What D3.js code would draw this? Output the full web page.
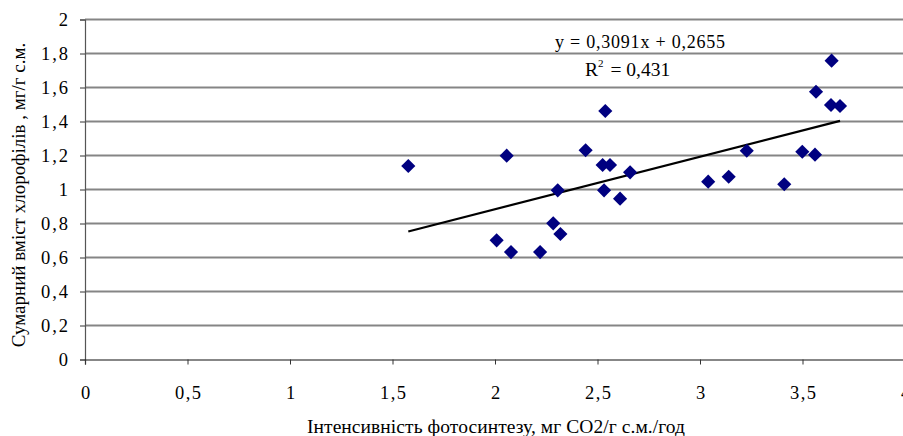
<!DOCTYPE html>
<html lang="uk">
<head>
<meta charset="UTF-8">
<title>Chart</title>
<style>
  body { margin: 0; background: #fff; }
  svg text { font-family: "Liberation Serif", "Times New Roman", Times, serif; fill: #000; }
</style>
</head>
<body>
<script src="https://cdn.jsdelivr.net/npm/d3@7"></script>
<script>
// photosynthesis intensity (x) vs total chlorophyll (y)
const xVals = [1.577, 2.057, 2.538, 2.442, 2.525, 2.561, 2.659, 2.306, 2.532, 2.610,
               2.284, 2.319, 2.008, 2.078, 2.220, 3.642, 3.566, 3.639, 3.683, 3.228,
               3.499, 3.561, 3.040, 3.140, 3.411]
const yVals = [1.138, 1.199, 1.462, 1.231, 1.144, 1.144, 1.101, 0.995, 0.995, 0.946,
               0.801, 0.738, 0.701, 0.632, 0.632, 1.758, 1.575, 1.497, 1.491, 1.228,
               1.222, 1.205, 1.046, 1.075, 1.031]
const slope = 0.3091
const intercept = 0.2655
const xTicks = [0, 0.5, 1, 1.5, 2, 2.5, 3, 3.5, 4]
const yTicks = [0, 0.2, 0.4, 0.6, 0.8, 1, 1.2, 1.4, 1.6, 1.8, 2]
const eqLabel = "y = 0,3091x + 0,2655"
const r2Value = "0,431"
const xTitle = "Інтенсивність фотосинтезу, мг СО2/г с.м./год"
const yTitle = "Сумарний вміст хлорофілів , мг/г с.м."

const width = 903, height = 436
const serif = "'Liberation Serif', 'Times New Roman', serif"
const fmt = d => String(d).replace(".", ",")

const svg = d3.select("body").append("svg")
    .attr("width", width)
    .attr("height", height)
    .attr("font-family", serif)

const x = d3.scaleLinear().domain([0, 4]).range([85, 905])
const y = d3.scaleLinear().domain([0, 2]).range([359.5, 19.5])

// horizontal gridlines
svg.append("g")
    .selectAll("line")
    .data(yTicks.filter(d => d > 0))
    .join("line")
    .attr("x1", x(0)).attr("x2", width)
    .attr("y1", d => y(d)).attr("y2", d => y(d))
    .attr("stroke", "#858585")
    .attr("stroke-width", 2)

// y axis
const yAxis = svg.append("g")
    .attr("transform", `translate(${x(0)},0)`)
    .call(d3.axisLeft(y).tickValues(yTicks).tickFormat(fmt).tickSize(5).tickPadding(12))
    .attr("font-family", serif)
yAxis.select(".domain").attr("stroke", "#555").attr("stroke-width", 1.2)
yAxis.selectAll(".tick line").attr("stroke", "#333")
yAxis.selectAll("text").attr("font-size", 18.5).attr("textLength", d => fmt(d).length > 1 ? 27 : null)

// x axis
const xAxis = svg.append("g")
    .attr("transform", `translate(0,${y(0)})`)
    .call(d3.axisBottom(x).tickValues(xTicks).tickFormat(fmt).tickSize(5).tickPadding(21))
    .attr("font-family", serif)
xAxis.select(".domain").attr("stroke", "#111").attr("stroke-width", 1.2)
xAxis.selectAll(".tick line").attr("stroke", "#333")
xAxis.selectAll("text").attr("font-size", 18.5).attr("textLength", d => fmt(d).length > 1 ? 26 : null)

// trend line over data range
const xMin = d3.min(xVals), xMax = d3.max(xVals)
svg.append("line")
    .attr("x1", x(xMin)).attr("y1", y(slope * xMin + intercept))
    .attr("x2", x(xMax)).attr("y2", y(slope * xMax + intercept))
    .attr("stroke", "#000")
    .attr("stroke-width", 2.2)

// markers
const diamond = d3.symbol().type(d3.symbolSquare).size(100)
svg.append("g")
    .selectAll("path")
    .data(xVals.map((v, i) => [v, yVals[i]]))
    .join("path")
    .attr("d", diamond)
    .attr("transform", d => `translate(${x(d[0])},${y(d[1])}) rotate(45)`)
    .attr("fill", "#000080")

// equation labels
svg.append("text")
    .attr("x", 555).attr("y", 48)
    .attr("font-size", 18)
    .attr("textLength", 170)
    .text(eqLabel)

const r2 = svg.append("text")
    .attr("x", 585).attr("y", 76)
    .attr("font-size", 19.5)
r2.append("tspan").text("R")
r2.append("tspan").attr("dy", -9).attr("font-size", 11).text("2")
r2.append("tspan").attr("dy", 9).attr("dx", 2).text(" = " + r2Value)

// axis titles
svg.append("text")
    .attr("x", 307).attr("y", 433)
    .attr("font-size", 19.5)
    .attr("textLength", 378)
    .text(xTitle)

svg.append("text")
    .attr("transform", `translate(25,${195}) rotate(-90)`)
    .attr("text-anchor", "middle")
    .attr("font-size", 19)
    .text(yTitle)
</script>
</body>
</html>
